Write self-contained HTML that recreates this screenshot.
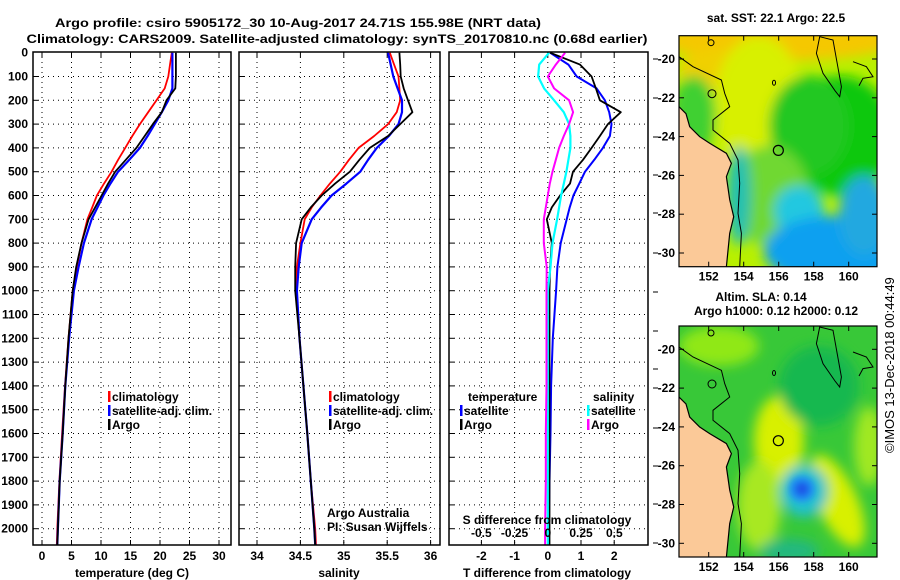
<!DOCTYPE html>
<html><head><meta charset="utf-8">
<style>
html,body{margin:0;padding:0;background:#fff;}
svg{display:block;font-family:"Liberation Sans",sans-serif;}
.b{font-weight:bold;font-size:12px;}
</style></head>
<body>
<svg id="chart" width="900" height="580" viewBox="0 0 900 580" xmlns="http://www.w3.org/2000/svg">
<defs>
<filter id="blur" x="-20%" y="-20%" width="140%" height="140%"><feGaussianBlur stdDeviation="6"/></filter>
<filter id="blur2" x="-50%" y="-50%" width="200%" height="200%"><feGaussianBlur stdDeviation="3"/></filter>
<clipPath id="mapclip"><rect x="0" y="0" width="198" height="231"/></clipPath>
</defs>
<text x="298" y="27" text-anchor="middle" class="b" font-size="13" textLength="486" lengthAdjust="spacingAndGlyphs">Argo profile: csiro 5905172_30 10-Aug-2017 24.71S 155.98E (NRT data)</text>
<text x="337" y="43" text-anchor="middle" class="b" font-size="13" textLength="621" lengthAdjust="spacingAndGlyphs">Climatology: CARS2009. Satellite-adjusted climatology: synTS_20170810.nc (0.68d earlier)</text>
<g id="panels"></g>
<g id="maps"></g>
<text transform="translate(894,453) rotate(-90)" font-size="13">©IMOS 13-Dec-2018 00:44:49</text>
</svg>
<script>
// ---------- data ----------
const depthTicks = [0,100,200,300,400,500,600,700,800,900,1000,1100,1200,1300,1400,1500,1600,1700,1800,1900,2000];
const tempTicks = [0,5,10,15,20,25,30];
const salTicks = [34,34.5,35,35.5,36];
const salTickLabels = ["34","34.5","35","35.5","36"];
const tdiffTicks = [-2,-1,0,1,2];
const sdiffTicks = [-0.5,-0.25,0,0.25,0.5];
const sdiffTickLabels = ["-0.5","-0.25","0","0.25","0.5"];

const depths = [0,50,100,150,200,250,300,350,400,450,500,550,600,650,700,800,900,1000,1200,1400,1600,1800,2000,2070];
const tempArgo = [22.7,22.7,22.7,22.6,21.1,20.3,18.8,17.4,16.0,14.2,12.4,11.2,10.1,9.0,7.9,6.7,5.8,5.2,4.5,3.95,3.5,3.0,2.7,2.6];
const tempClim = [22.0,21.7,21.4,20.8,19.4,18.0,16.6,15.3,14.1,12.9,11.8,10.5,9.3,8.5,7.7,6.7,5.9,5.2,4.5,3.9,3.4,2.95,2.6,2.5];
const tempSat  = [22.1,22.1,22.1,22.1,21.4,20.3,19.1,17.9,16.6,14.8,12.9,11.6,10.4,9.4,8.4,7.1,6.2,5.4,4.6,3.95,3.5,3.0,2.7,2.6];
const salArgo = [35.64,35.65,35.655,35.69,35.74,35.79,35.65,35.51,35.30,35.18,35.07,34.90,34.745,34.62,34.515,34.45,34.44,34.44,34.49,34.535,34.58,34.62,34.66,34.67];
const salClim = [35.53,35.58,35.63,35.64,35.65,35.61,35.51,35.35,35.17,35.06,34.96,34.84,34.73,34.63,34.55,34.50,34.46,34.45,34.49,34.535,34.58,34.62,34.67,34.68];
const salSat  = [35.51,35.54,35.57,35.62,35.67,35.67,35.63,35.52,35.38,35.28,35.19,35.03,34.86,34.74,34.63,34.515,34.48,34.46,34.49,34.535,34.58,34.62,34.66,34.67];
const tdiffArgo = [0.07,0.97,1.32,1.45,1.57,2.2,1.81,1.57,1.32,1.06,0.76,0.67,0.37,0.12,-0.03,0.12,0.07,0.05,0.05,0.05,0.05,0.05,0.05,0.05];
const tdiffSat  = [0.07,0.62,0.87,1.47,1.72,1.85,1.92,1.87,1.66,1.40,1.12,0.95,0.77,0.66,0.57,0.39,0.29,0.25,0.15,0.10,0.08,0.05,0.03,0.03];
const sdiffSat  = [0.01,-0.065,-0.073,-0.028,0.047,0.12,0.16,0.17,0.17,0.155,0.14,0.12,0.10,0.085,0.07,0.035,0.02,0.0,0.0,0.0,0.0,0.0,0.0,0.0];
const sdiffArgo = [0.13,0.06,0.0,0.047,0.16,0.19,0.16,0.12,0.085,0.06,0.035,0.015,0.0,-0.015,-0.03,-0.03,-0.008,-0.01,-0.01,-0.01,-0.015,-0.015,-0.02,-0.02];

// ---------- axis functions ----------
const Y0 = 52.7, YS = 0.238, YBOT = 545;
function yD(d){ return Math.min(Y0 + YS*d, YBOT); }
function xT(t){ return 42 + 5.9*t; }
function xS(s){ return 257 + 86.8*(s-34); }
function xTD(v){ return 547.8 + 33.2*v; }
function xSD(v){ return 547.8 + 133*v; }

const NS = "http://www.w3.org/2000/svg";
const gp = document.getElementById('panels');
function mk(tag, attrs, parent){
  const e = document.createElementNS(NS, tag);
  for (const k in attrs) e.setAttribute(k, attrs[k]);
  (parent||gp).appendChild(e);
  return e;
}
function txt(x,y,s,anchor,cls,parent){
  const e = mk('text',{x:x,y:y,'text-anchor':anchor||'start','class':cls||'b'},parent);
  e.textContent = s; return e;
}

const panels = [
  {name:'temperature', x0:33, x1:231},
  {name:'salinity', x0:239, x1:440},
  {name:'difference', x0:449, x1:648}
];

depthTicks.forEach(d=>{
  const t = txt(28, yD(d)+4, String(d), 'end');
  
  
});

function grid(p, xs){
  depthTicks.forEach(d=>{
    if (d===0) return;
    const l = mk('line',{x1:p.x0,x2:p.x1,y1:yD(d),y2:yD(d),stroke:'#000','stroke-width':1,'stroke-dasharray':'1,4'});
    
    
    const tk = mk('line',{x1:p.x0,x2:p.x0+5,y1:yD(d),y2:yD(d),stroke:'#000'});
    
    
  });
  xs.forEach(x=>{
    const l = mk('line',{x1:x,x2:x,y1:52,y2:YBOT,stroke:'#000','stroke-width':1,'stroke-dasharray':'1,4'});
    
    
    const tk = mk('line',{x1:x,x2:x,y1:YBOT,y2:YBOT-5,stroke:'#000'});
    
    
    const tk2 = mk('line',{x1:x,x2:x,y1:52,y2:57,stroke:'#000'});
    
    
  });
}
function frame(p){
  const r = mk('rect',{x:p.x0,y:52,width:p.x1-p.x0,height:YBOT-52,fill:'none',stroke:'#000','stroke-width':1.5});
  
  
}
function series(vals, fx, color, name, w){
  const pts = vals.map((v,i)=> fx(v).toFixed(1)+','+yD(depths[i]).toFixed(1)).join(' ');
  const pl = mk('polyline',{points:pts,fill:'none',stroke:color,'stroke-width':w||2,'stroke-linejoin':'round'});
  
  
}

grid(panels[0], tempTicks.map(xT));
series(tempClim, xT, '#ff0000', 'temperature-climatology-line',1.8);
series(tempSat, xT, '#0000ff', 'temperature-satellite-line',2.2);
series(tempArgo, xT, '#000000', 'temperature-argo-line',1.8);
frame(panels[0]);
tempTicks.forEach(t=>{ const e=txt(xT(t),560,String(t),'middle');   });
{const e=txt(132,577,'temperature (deg C)','middle');  }

grid(panels[1], salTicks.map(xS));
series(salClim, xS, '#ff0000', 'salinity-climatology-line',1.8);
series(salSat, xS, '#0000ff', 'salinity-satellite-line',2.2);
series(salArgo, xS, '#000000', 'salinity-argo-line',1.8);
frame(panels[1]);
salTicks.forEach((s,i)=>{ const e=txt(xS(s),560,salTickLabels[i],'middle');   });
{const e=txt(339,577,'salinity','middle');  }

grid(panels[2], tdiffTicks.map(xTD));
series(tdiffSat, xTD, '#0000ff', 'tdiff-satellite-line',2);
series(tdiffArgo, xTD, '#000000', 'tdiff-argo-line',1.8);
series(sdiffSat, xSD, '#00ffff', 'sdiff-satellite-line',2.2);
series(sdiffArgo, xSD, '#ff00ff', 'sdiff-argo-line',2);
frame(panels[2]);
tdiffTicks.forEach(t=>{ const e=txt(xTD(t),560,String(t),'middle');   });
sdiffTicks.forEach((s,i)=>{ const e=txt(xSD(s),537,sdiffTickLabels[i],'middle');   });
{const e=txt(547,577,'T difference from climatology','middle');  }
{const e=txt(547,524,'S difference from climatology','middle');  }
[59,98,137,175,213,253,292,331,369,388,428,466,504,543].forEach(y=>{
  const tk = mk('line',{x1:653,x2:658,y1:y,y2:y,stroke:'#000'});
  
  
});

function legend(x,y,color,label,name){
  const g = mk('g',{});
  
  
  mk('rect',{x:x,y:y-10,width:2.5,height:11,fill:color},g);
  txt(x+4,y,label,'start','b',g);
}
legend(108,401,'#ff0000','climatology','legend-climatology');
legend(108,415,'#0000ff','satellite-adj. clim.','legend-satellite-adj');
legend(108,429,'#000000','Argo','legend-argo');
legend(329,401,'#ff0000','climatology','legend-sal-climatology');
legend(329,415,'#0000ff','satellite-adj. clim.','legend-sal-satellite-adj');
legend(329,429,'#000000','Argo','legend-sal-argo');
{const e=txt(468,401,'temperature');  }
{const e=txt(593,401,'salinity');  }
legend(460,415,'#0000ff','satellite','legend-tdiff-satellite');
legend(460,429,'#000000','Argo','legend-tdiff-argo');
legend(587,415,'#00ffff','satellite','legend-sdiff-satellite');
legend(587,429,'#ff00ff','Argo','legend-sdiff-argo');
{const e=txt(327,517,'Argo Australia','start',''); e.setAttribute('font-size','12');  }
{const e=txt(327,531,'PI: Susan Wijffels','start',''); e.setAttribute('font-size','12');  }

// ---------- maps ----------
const lonTicks = [152,154,156,158,160];
const latTicks = [-20,-22,-24,-26,-28,-30];
function mlon(l){ return 29.7 + (l-152)*17.5; }
function mlat(l){ return 23.3 + (-20-l)*19.4; }
const gm = document.getElementById('maps');

function drawMap(oy, name, blobs, base, sharp){
  const g = mk('g',{transform:'translate(679,'+oy+')'}, gm);
  
  
  const c = mk('g',{'clip-path':'url(#mapclip)'},g);
  mk('rect',{x:0,y:0,width:198,height:231,fill:base},c);
  const bg = mk('g',{filter:'url(#blur)'},c);
  blobs.forEach(b=> mk('ellipse',{cx:b[0],cy:b[1],rx:b[2],ry:b[3],fill:b[4],transform:'rotate('+(b[5]||0)+' '+b[0]+' '+b[1]+')'},bg));
  const bg2 = mk('g',{filter:'url(#blur2)'},c);
  sharp.forEach(b=> mk('ellipse',{cx:b[0],cy:b[1],rx:b[2],ry:b[3],fill:b[4]},bg2));
  const land = mk('polygon',{points:'0,71 7,78 10.7,91 20.7,101 30.7,107.6 47.4,117.6 52.4,127.6 47.4,141 50.7,164 54.7,181 50.7,197.6 47.4,231 0,231',fill:'#fbc998'},c);
  
  
  mk('polyline',{points:'0,71 7,78 10.7,91 20.7,101 30.7,107.6 47.4,117.6 52.4,127.6 47.4,141 50.7,164 54.7,181 50.7,197.6 47.4,231',fill:'none',stroke:'#000','stroke-width':1.2},c);
  mk('polyline',{points:'0,21 14,31 42.4,44.3 45.7,57.6 50.7,71 34,84.3 34,94.3 50.7,107.6 59,124.3 60.7,147.6 59,177.6 62.4,197.6 60.7,231',fill:'none',stroke:'#000','stroke-width':1},c);
  mk('polygon',{points:'140.7,1 137.4,17.6 144,37.6 156,55 160.7,61 162.4,51 154,4.3',fill:'none',stroke:'#000','stroke-width':1},c);
  mk('polyline',{points:'174,26 187.4,31 194,41 184,42.6 180,50',fill:'none',stroke:'#000','stroke-width':1},c);
  mk('ellipse',{cx:33,cy:58,rx:4,ry:4,fill:'none',stroke:'#000'},c);
  mk('ellipse',{cx:32,cy:7,rx:3,ry:3,fill:'none',stroke:'#000'},c);
  mk('ellipse',{cx:95,cy:47,rx:1.5,ry:2.5,fill:'none',stroke:'#000'},c);
  const pos = mk('circle',{cx:mlon(155.98),cy:mlat(-24.71),r:5,fill:'none',stroke:'#000','stroke-width':1.2},c);
  
  
  mk('rect',{x:0,y:0,width:198,height:231,fill:'none',stroke:'#000','stroke-width':1.2},g);
  lonTicks.forEach(l=>{
    mk('line',{x1:mlon(l),x2:mlon(l),y1:231,y2:226,stroke:'#000'},g);
    mk('line',{x1:mlon(l),x2:mlon(l),y1:0,y2:5,stroke:'#000'},g);
    const e=txt(mlon(l),245,String(l),'middle','b',g);
     
  });
  latTicks.forEach(l=>{
    mk('line',{x1:0,x2:5,y1:mlat(l),y2:mlat(l),stroke:'#000'},g);
    mk('line',{x1:198,x2:193,y1:mlat(l),y2:mlat(l),stroke:'#000'},g);
    const e=txt(-4,mlat(l)+4,String(l),'end','b',g);
     
  });
}
drawMap(35.7,'sst-map',[
  [100,5,120,20,'#f5c800'],
  [40,35,40,22,'#f0d000'],
  [80,70,45,70,'#d8f000'],
  [15,80,22,40,'#40d030'],
  [160,100,55,60,'#10c810'],
  [130,90,40,50,'#20c820'],
  [90,160,40,50,'#70d830'],
  [120,175,25,25,'#20c8e0'],
  [155,215,70,35,'#10a0f0'],
  [185,180,25,40,'#20a8e0'],
  [60,160,12,50,'#20c0b0']
],'#b8f000',[]);
drawMap(326,'sla-map',[
  [40,20,40,20,'#90e818'],
  [100,115,25,45,'#d8f000'],
  [158,175,20,50,'#d8f000',-25],
  [80,180,22,45,'#a8e820'],
  [140,60,40,40,'#18b850'],
  [110,225,30,12,'#20b880'],
  [190,120,15,40,'#a0e820'],
  [125,165,24,26,'#20c0d0']
],'#38c838',[
  [123,163,13,13,'#2090f0'],
  [123,163,7,7,'#1e5ae8']
]);
{const e=txt(776,22,'sat. SST: 22.1 Argo: 22.5','middle');  }
{const e=txt(761,301,'Altim. SLA: 0.14','middle');  }
{const e=txt(776,315,'Argo h1000: 0.12 h2000: 0.12','middle');  }
</script>
</body></html>
